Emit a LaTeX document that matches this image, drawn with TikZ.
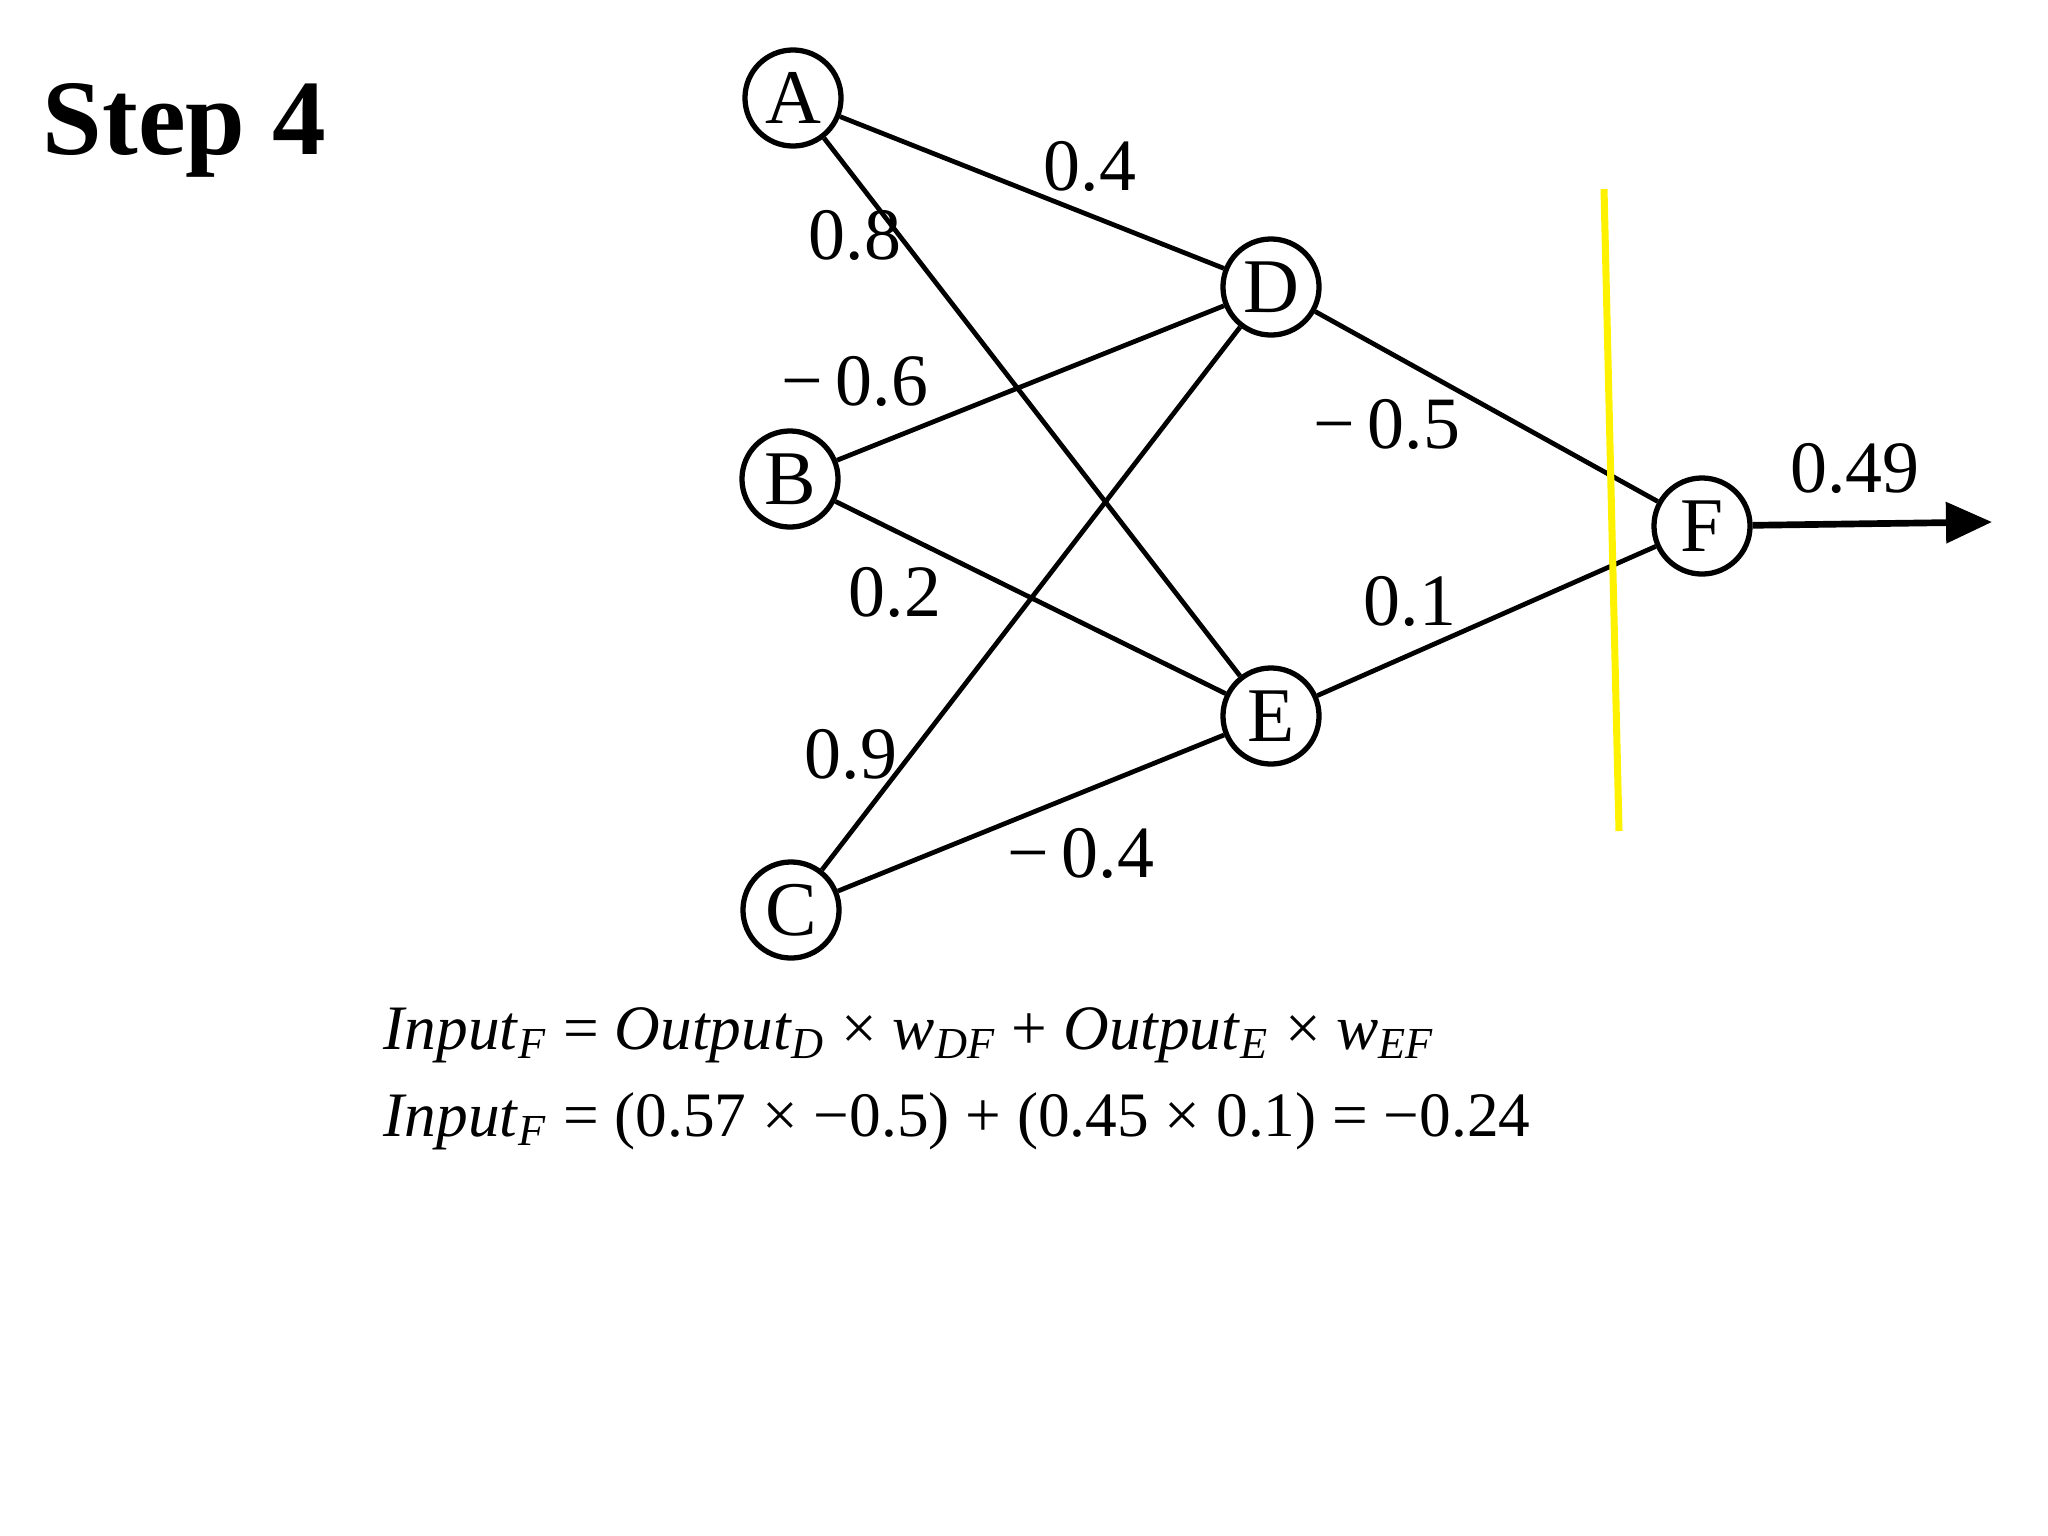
\documentclass[tikz,border=0pt]{standalone}
\usepackage{amsmath}
\usepackage{fontspec}
\setmainfont{Liberation Serif}
\usetikzlibrary{arrows.meta}

\begin{document}
\begin{tikzpicture}[x=0.01cm, y=-0.01cm]
 \useasboundingbox (0,0) rectangle (2048,1536);
 \node (step) [anchor=base west, inner sep=0pt, font=\fontsize{30.5}{34}\selectfont\bfseries] at (42,154) {Step 4};
 \begin{scope}[every node/.style={circle, draw, line width=1.5pt, minimum size=0.96cm, inner sep=0pt, font=\fontsize{22}{24}\selectfont}]
   \node (A) at (793,98) {A};
   \node (B) at (790,479) {B};
   \node (C) at (791,910) {C};
   \node (D) at (1271,287) {D};
   \node (E) at (1271,716) {E};
   \node (F) at (1702,526) {F};
   \draw[line width=1.35pt] (A) -- (D);
   \draw[line width=1.35pt] (A) -- (E);
   \draw[line width=1.35pt] (B) -- (D);
   \draw[line width=1.35pt] (B) -- (E);
   \draw[line width=1.35pt] (C) -- (D);
   \draw[line width=1.35pt] (C) -- (E);
   \draw[line width=1.35pt] (D) -- (F);
   \draw[line width=1.35pt] (E) -- (F);
 \end{scope}
 % weights
 \begin{scope}[every node/.style={font=\fontsize{21}{24}\selectfont}]
   \node (wAD) at (1090,166) {0.4};
   \node (wAE) at (855,235) {0.8};
   \node (wBD) at (855,381) {−\,0.6};
   \node (wBE) at (895,592) {0.2};
   \node (wCD) at (851,754) {0.9};
   \node (wCE) at (1081,853) {−\,0.4};
   \node (wDF) at (1387,424) {−\,0.5};
   \node (wEF) at (1410,601) {0.1};
   \node (wout) at (1855,468) {0.49};
 \end{scope}
 \coordinate (out) at (1992,522);
 \draw[line width=1.9pt, -{Triangle[length=0.46cm, width=0.4cm]}] (F) -- (out);
 % cut line
 \coordinate (cut1) at (1604,189);
 \coordinate (cut2) at (1619,831);
 \draw[yellow, line width=2pt] (cut1) -- (cut2);
 % formulas
 \begin{scope}[every node/.style={anchor=base west, inner sep=0pt, font=\fontsize{18}{22}\selectfont}]
   \node (eq1) at (383,1049) {\textit{Input}$_{\textit{F}}$ = \textit{Output}$_{\textit{D}}$ × \textit{w}$_{\textit{DF}}$ + \textit{Output}$_{\textit{E}}$ × \textit{w}$_{\textit{EF}}$};
   \node (eq2) at (383,1136) {\textit{Input}$_{\textit{F}}$ = (0.57 × −0.5) + (0.45 × 0.1) = −0.24};
 \end{scope}
\end{tikzpicture}
\end{document}
